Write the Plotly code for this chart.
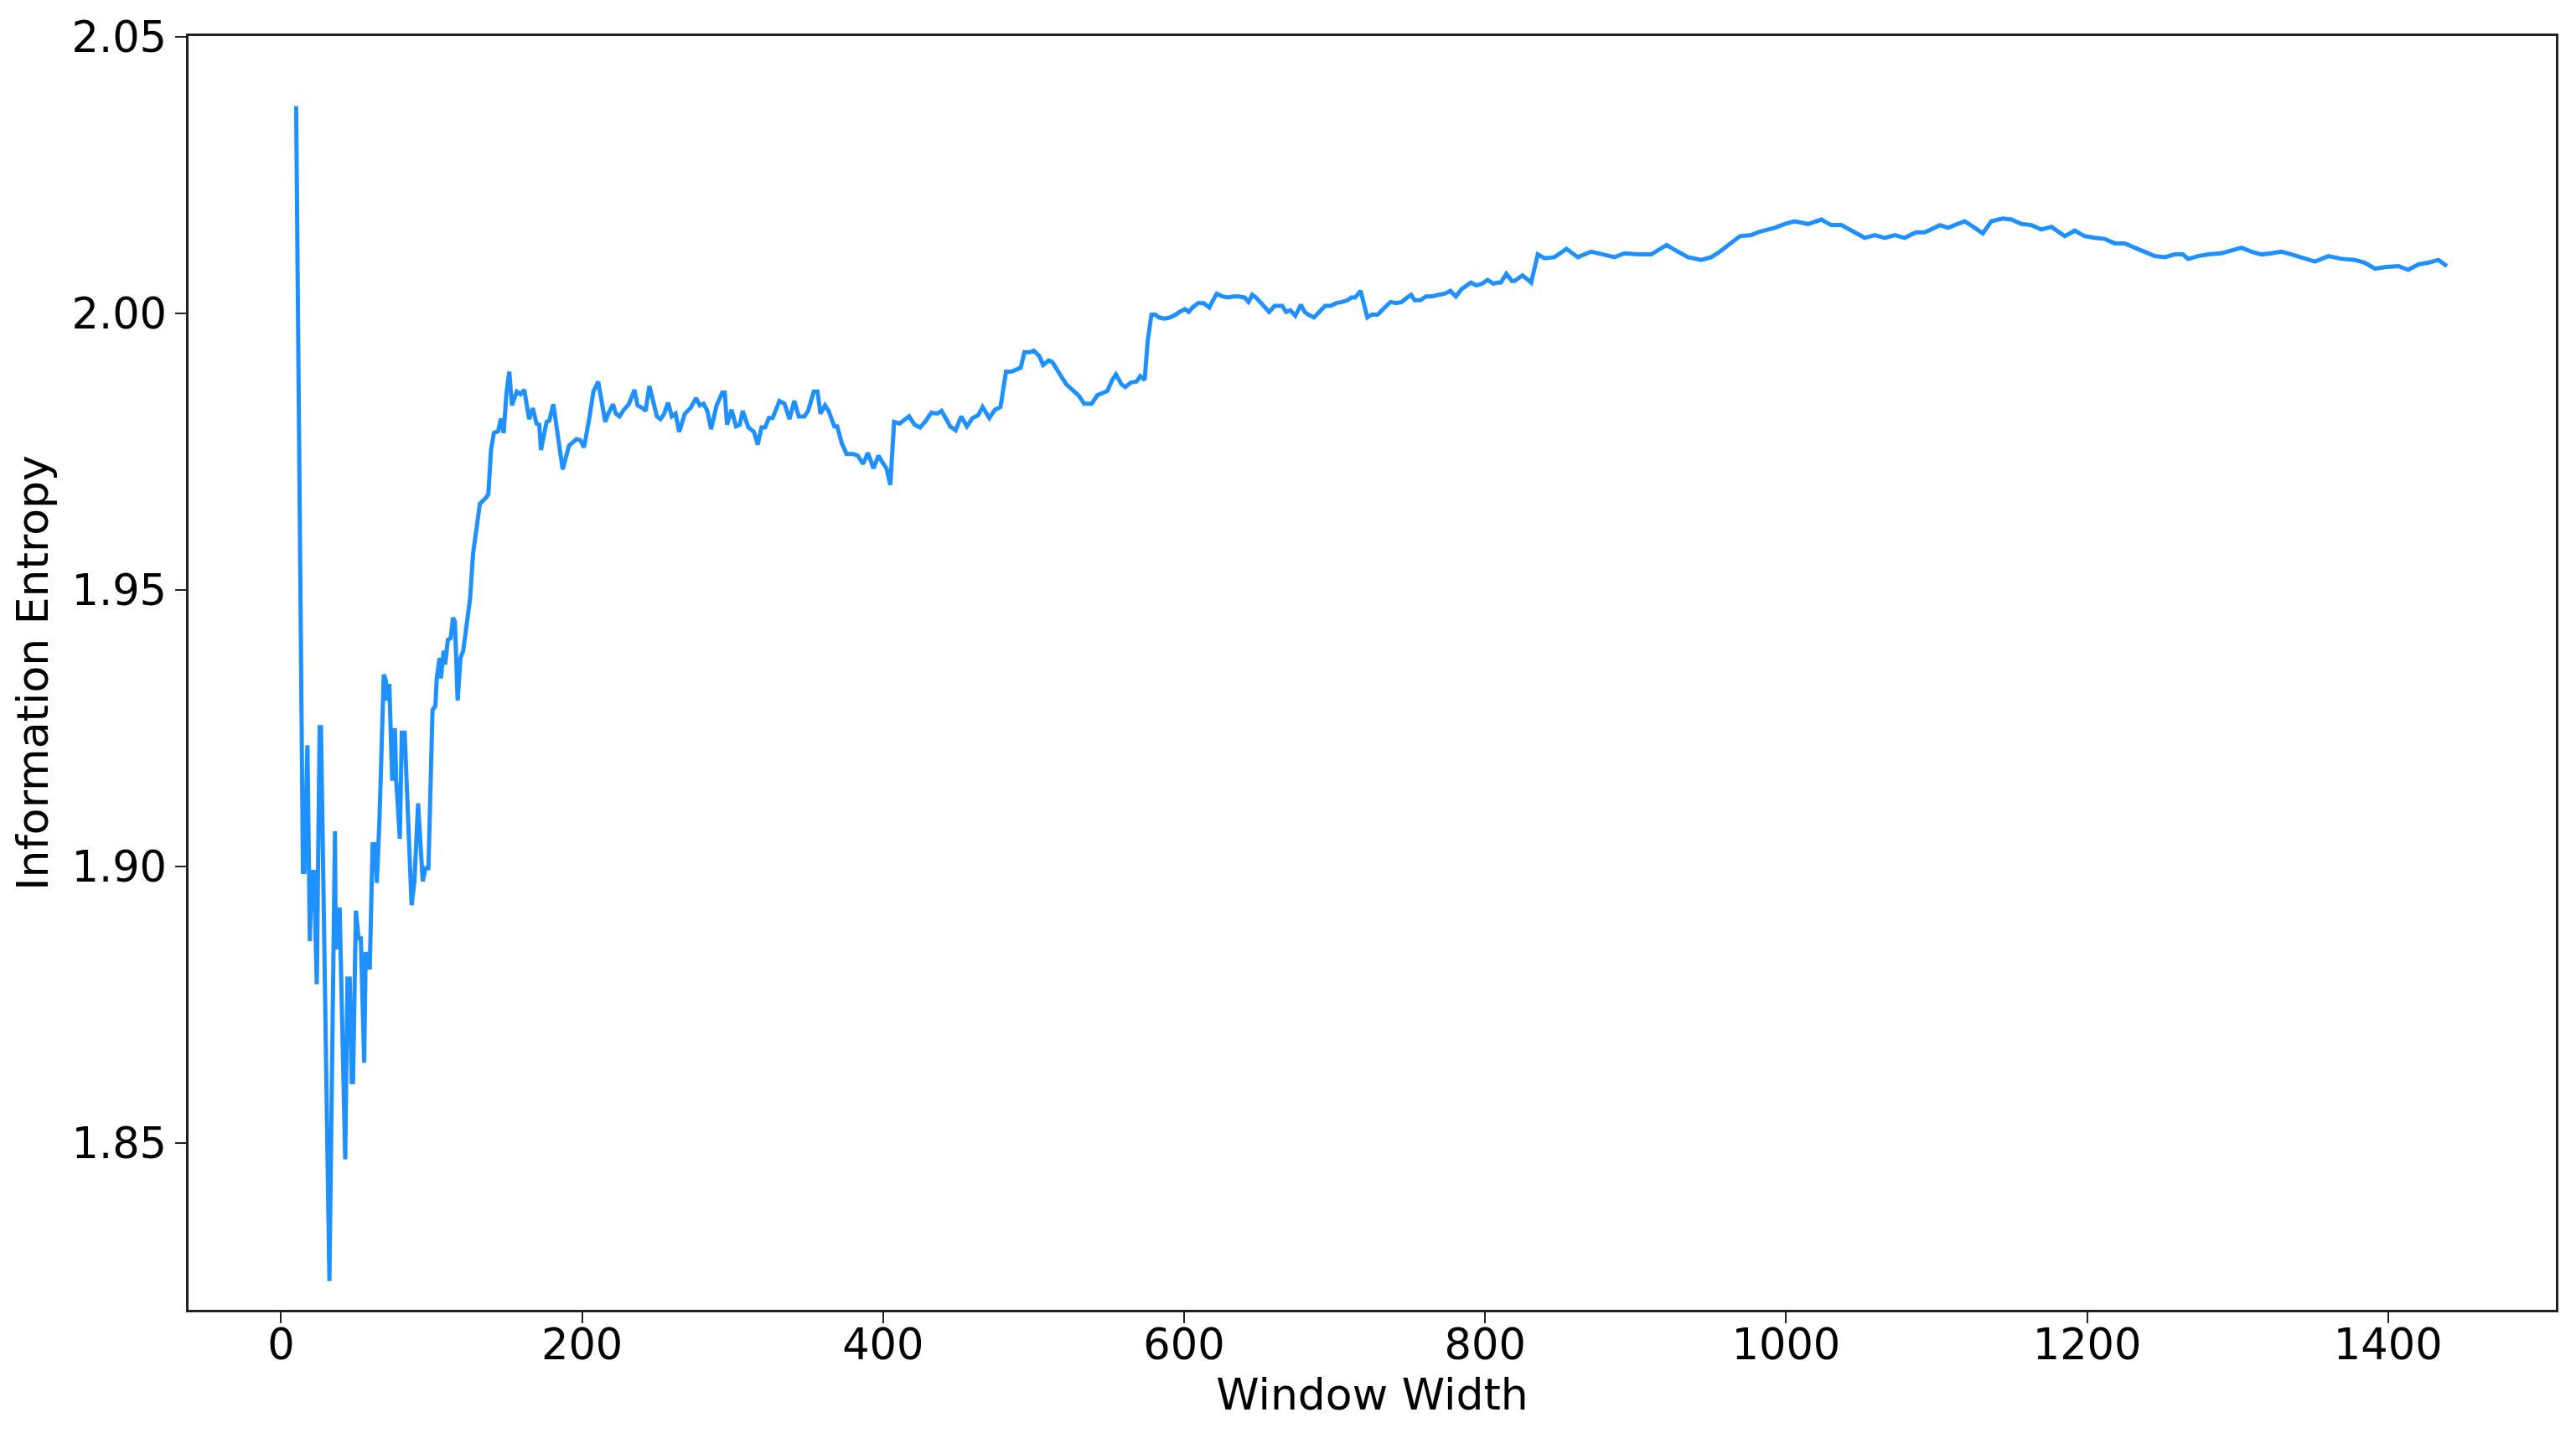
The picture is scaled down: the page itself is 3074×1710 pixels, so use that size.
import plotly.graph_objects as go

window_width = [
    10, 11, 14.5, 15.5, 17.5, 19.1, 20.4, 21.9, 23.7, 25.6, 26.5, 32.1, 35.8, 36.3, 37.6, 38.5, 38.9,
    42.6, 44.1, 45.6, 46.9, 47.8, 49.7, 51.5, 53.0, 55.2, 56.2, 58.9, 60.8, 62.6, 63.6, 65.4, 68.2,
    69.7, 70.4, 71.9, 73.8, 75.6, 76.5, 78.9, 80.2, 82.1, 86.7, 88.6, 91.0, 94.1, 96.0, 97.9, 100.6,
    102.5, 103.4, 105.3, 106.2, 108.0, 109.0, 110.8, 112.7, 114.2, 115.5, 117.3, 119.2, 121.0, 125.6,
    127.5, 132.1, 135.8, 137.7, 139.5, 141.4, 144.2, 146.0, 147.9, 149.7, 151.6, 153.4, 156.6, 159.1,
    161.6, 164.8, 167.3, 169.7, 171.5, 172.7, 176.4, 178.2, 180.9, 183.9, 187.1, 191.3, 196.3, 198.8,
    201.3, 205.0, 207.5, 210.7, 213.0, 215.4, 217.4, 220.6, 222.4, 224.8, 227.8, 231.0, 234.8, 236.8,
    240.2, 242.2, 244.7, 247.2, 249.7, 252.1, 254.6, 257.1, 259.6, 262.1, 264.5, 268.3, 272.0, 275.7,
    278.2, 280.7, 283.2, 285.7, 289.4, 293.1, 294.8, 296.3, 299.3, 302.3, 304.8, 306.7, 310.5, 314.2,
    316.7, 319.2, 321.6, 324.1, 326.6, 331.1, 334.5, 337.8, 341.0, 344.0, 347.7, 350.2, 353.9, 356.4,
    358.4, 361.4, 363.8, 367.6, 369.5, 372.5, 375.7, 380.0, 383.2, 386.7, 389.9, 393.6, 396.9, 399.8,
    402.3, 404.8, 407.3, 411.0, 413.5, 417.2, 420.9, 424.6, 428.4, 432.1, 435.8, 438.8, 442.0, 444.5,
    448.2, 451.9, 455.7, 459.4, 463.1, 466.1, 470.6, 474.3, 478.0, 481.7, 485.2, 491.4, 493.9, 497.6,
    500.1, 503.8, 506.3, 510.1, 512.5, 516.3, 518.7, 521.7, 526.2, 529.9, 533.6, 538.6, 542.3, 546.0,
    549.0, 552.2, 554.7, 558.4, 560.9, 564.6, 568.4, 570.9, 573.8, 575.8, 578.3, 580.8, 583.3, 587.0,
    590.7, 594.4, 596.9, 600.6, 603.1, 605.6, 609.3, 613.0, 616.8, 619.2, 621.7, 625.5, 629.2, 632.9,
    636.6, 640.3, 642.8, 645.3, 647.8, 652.8, 656.5, 660.2, 665.2, 667.7, 670.6, 673.9, 677.6, 680.1,
    682.6, 686.3, 690.0, 693.7, 697.4, 701.2, 704.9, 708.6, 711.1, 713.6, 717.3, 719.8, 721.8, 724.7,
    728.5, 732.2, 737.1, 740.9, 744.6, 748.3, 750.8, 753.3, 757.0, 760.7, 764.5, 769.4, 773.2, 776.9,
    780.6, 784.3, 790.5, 794.2, 798.0, 801.7, 805.4, 807.9, 810.4, 814.1, 817.8, 819.5, 824.9, 830.6,
    835.0, 839.5, 846.1, 854.1, 861.6, 870.5, 879.4, 886.0, 892.7, 901.5, 910.4, 920.6, 928.1, 934.8,
    943.6, 950.3, 956.0, 961.4, 969.3, 976.9, 981.3, 988.0, 992.4, 999.0, 1005.7, 1014.5, 1023.4,
    1030.0, 1036.7, 1045.6, 1052.2, 1058.9, 1065.5, 1072.2, 1078.8, 1086.3, 1092.1, 1102.3, 1107.6,
    1112.0, 1118.7, 1125.4, 1130.7, 1136.4, 1144.0, 1149.8, 1156.4, 1163.1, 1169.6, 1176.3, 1185.2,
    1191.8, 1198.5, 1205.1, 1211.8, 1218.4, 1225.1, 1231.7, 1238.4, 1245.0, 1251.6, 1258.3, 1263.6,
    1267.2, 1273.8, 1280.5, 1289.3, 1296.0, 1302.6, 1309.3, 1315.9, 1322.6, 1329.2, 1335.9, 1342.5,
    1351.4, 1360.3, 1369.1, 1378.0, 1384.6, 1391.3, 1398.0, 1406.8, 1413.4, 1420.1, 1426.7, 1433.4,
    1439.1,
]

information_entropy = [
    2.0375, 2.0052, 1.8990, 1.8990, 1.9219, 1.8865, 1.8990, 1.8990, 1.8787, 1.9252, 1.9252, 1.8250,
    1.9064, 1.8850, 1.8926, 1.8850, 1.8926, 1.8470, 1.8797, 1.8797, 1.8610, 1.8610, 1.8920, 1.8870,
    1.8870, 1.8645, 1.8845, 1.8814, 1.9040, 1.9040, 1.8970, 1.9087, 1.9347, 1.9336, 1.9300, 1.9330,
    1.9155, 1.9250, 1.9155, 1.9050, 1.9242, 1.9242, 1.8930, 1.8973, 1.9114, 1.8973, 1.8997, 1.8997,
    1.9283, 1.9290, 1.9340, 1.9377, 1.9340, 1.9390, 1.9365, 1.9410, 1.9413, 1.9450, 1.9443, 1.9300,
    1.9377, 1.9390, 1.9485, 1.9565, 1.9656, 1.9666, 1.9673, 1.9754, 1.9784, 1.9787, 1.9810, 1.9784,
    1.9855, 1.9895, 1.9834, 1.9859, 1.9854, 1.9862, 1.9809, 1.9829, 1.9801, 1.9799, 1.9753, 1.9804,
    1.9806, 1.9836, 1.9778, 1.9718, 1.9761, 1.9773, 1.9771, 1.9758, 1.9814, 1.9859, 1.9877, 1.9844,
    1.9804, 1.9819, 1.9836, 1.9819, 1.9814, 1.9826, 1.9836, 1.9862, 1.9834, 1.9829, 1.9824, 1.9869,
    1.9844, 1.9814, 1.9809, 1.9819, 1.9839, 1.9814, 1.9819, 1.9786, 1.9819, 1.9829, 1.9847, 1.9834,
    1.9837, 1.9824, 1.9791, 1.9834, 1.9857, 1.9857, 1.9799, 1.9826, 1.9796, 1.9799, 1.9824, 1.9794,
    1.9786, 1.9763, 1.9794, 1.9794, 1.9811, 1.9811, 1.9842, 1.9837, 1.9809, 1.9842, 1.9814, 1.9814,
    1.9824, 1.9859, 1.9859, 1.9819, 1.9834, 1.9824, 1.9796, 1.9796, 1.9766, 1.9746, 1.9746, 1.9743,
    1.9728, 1.9748, 1.9720, 1.9743, 1.9730, 1.9720, 1.9690, 1.9804, 1.9801, 1.9806, 1.9814, 1.9799,
    1.9794, 1.9806, 1.9821, 1.9819, 1.9824, 1.9809, 1.9796, 1.9789, 1.9814, 1.9796, 1.9811, 1.9816,
    1.9831, 1.9811, 1.9826, 1.9831, 1.9895, 1.9895, 1.9902, 1.9930, 1.9930, 1.9933, 1.9923, 1.9907,
    1.9915, 1.9912, 1.9897, 1.9885, 1.9872, 1.9862, 1.9852, 1.9837, 1.9837, 1.9852, 1.9857, 1.9860,
    1.9880, 1.9890, 1.9872, 1.9867, 1.9875, 1.9877, 1.9887, 1.9880, 1.9950, 1.9998, 1.9998, 1.9993,
    1.9991, 1.9993, 1.9998, 2.0003, 2.0008, 2.0003, 2.0011, 2.0019, 2.0019, 2.0011, 2.0024, 2.0036,
    2.0031, 2.0029, 2.0031, 2.0031, 2.0029, 2.0021, 2.0034, 2.0029, 2.0014, 2.0003, 2.0014, 2.0014,
    2.0003, 2.0006, 1.9996, 2.0016, 2.0003, 1.9998, 1.9993, 2.0003, 2.0014, 2.0014, 2.0019, 2.0021,
    2.0024, 2.0029, 2.0029, 2.0041, 2.0011, 1.9993, 1.9998, 1.9998, 2.0008, 2.0021, 2.0019, 2.0021,
    2.0029, 2.0034, 2.0024, 2.0024, 2.0031, 2.0031, 2.0034, 2.0036, 2.0041, 2.0031, 2.0044, 2.0056,
    2.0051, 2.0054, 2.0061, 2.0054, 2.0056, 2.0056, 2.0072, 2.0059, 2.0059, 2.0069, 2.0056, 2.0107,
    2.0100, 2.0102, 2.0117, 2.0102, 2.0112, 2.0107, 2.0102, 2.0109, 2.0107, 2.0107, 2.0124, 2.0112,
    2.0102, 2.0097, 2.0102, 2.0112, 2.0124, 2.0140, 2.0142, 2.0147, 2.0152, 2.0155, 2.0162, 2.0167,
    2.0162, 2.0170, 2.0160, 2.0160, 2.0147, 2.0137, 2.0142, 2.0137, 2.0142, 2.0137, 2.0147, 2.0147,
    2.0160, 2.0155, 2.0160, 2.0167, 2.0155, 2.0145, 2.0167, 2.0172, 2.0170, 2.0162, 2.0160, 2.0152,
    2.0157, 2.0140, 2.0150, 2.0140, 2.0137, 2.0135, 2.0127, 2.0127, 2.0119, 2.0112, 2.0104, 2.0102,
    2.0107, 2.0107, 2.0099, 2.0104, 2.0107, 2.0109, 2.0114, 2.0119, 2.0112, 2.0107, 2.0109, 2.0112,
    2.0107, 2.0102, 2.0094, 2.0104, 2.0099, 2.0097, 2.0092, 2.0081, 2.0084, 2.0086, 2.0079, 2.0089,
    2.0092, 2.0097, 2.0086,
]

x_tick_values = [0, 200, 400, 600, 800, 1000, 1200, 1400]
y_tick_values = [1.85, 1.90, 1.95, 2.00, 2.05]

FONT = "DejaVu Sans"
AXIS_COLOR = "#222222"

fig = go.Figure()
fig.add_trace(go.Scatter(
    x=window_width,
    y=information_entropy,
    mode="lines",
    line=dict(color="#1E90FF", width=5),
    showlegend=False,
))

# the page adds an 8px body margin, so the figure is sized to fit inside the window
fig.update_layout(
    width=3058,
    height=1694,
    margin=dict(l=217, r=16, t=35, b=139),
    paper_bgcolor="white",
    plot_bgcolor="white",
    font=dict(family=FONT, size=51, color="black"),
    showlegend=False,
)

fig.update_xaxes(
    range=[-61.5, 1511.5],
    tickvals=x_tick_values,
    ticks="outside",
    ticklen=13,
    tickwidth=2,
    tickcolor=AXIS_COLOR,
    ticklabelstandoff=-18,
    showline=True,
    linecolor=AXIS_COLOR,
    linewidth=2.5,
    mirror=True,
    showgrid=False,
    zeroline=False,
    automargin=False,
    tickfont=dict(family=FONT, size=51, color="black"),
    title=dict(text="Window Width", font=dict(family=FONT, size=52, color="black"), standoff=10),
)

fig.update_yaxes(
    range=[1.8198, 2.0502],
    tickvals=y_tick_values,
    tickformat=".2f",
    ticks="outside",
    ticklen=13,
    tickwidth=2,
    tickcolor=AXIS_COLOR,
    showline=True,
    linecolor=AXIS_COLOR,
    linewidth=2.5,
    mirror=True,
    showgrid=False,
    zeroline=False,
    automargin=False,
    tickfont=dict(family=FONT, size=51, color="black"),
    title=dict(text="Information Entropy", font=dict(family=FONT, size=52, color="black"), standoff=12),
)

fig.write_html("out.html")
